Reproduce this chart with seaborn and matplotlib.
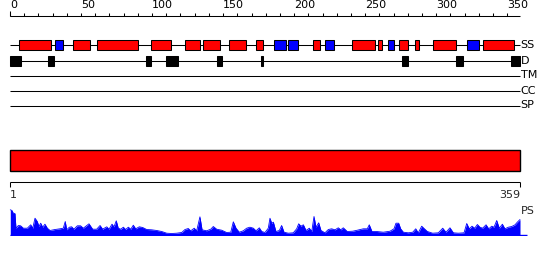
import matplotlib
matplotlib.use("Agg")
import matplotlib.pyplot as plt
import seaborn as sns
import numpy as np
import pandas as pd

sns.set_style("white")
plt.rcParams['font.family'] = ['DejaVu Sans']

# ---------------- data ----------------
seq_len = 359
top_ticks_minor = list(range(0, 351, 10))
top_tick_labels = [0, 50, 100, 150, 200, 250, 300, 350]

helix_start = [6, 44, 61, 99, 123, 136, 154, 173, 213, 241, 259, 274, 285, 298, 333]
helix_end   = [29, 56, 90, 113, 134, 148, 166, 178, 218, 257, 262, 280, 288, 314, 355]
strand_start = [32, 186, 196, 222, 266, 322]
strand_end   = [37, 194, 203, 228, 270, 330]
disorder_start = [0, 27, 96, 110, 146, 177, 276, 314, 353]
disorder_end   = [8, 31, 99, 118, 149, 178, 280, 319, 359]

track_names = ["SS", "D", "TM", "CC", "SP"]

domain_start = [0]
domain_end = [359]

ps_pos = [0.2, 1.4, 2.3, 3.5, 4.2, 5.9, 7.5, 9.4, 12.2, 14.6, 16.0, 17.6, 19.2, 20.4, 21.6,
          23.0, 24.6, 26.3, 28.2, 31.7, 35.2, 37.5, 38.9, 39.9, 41.8, 43.4, 45.0, 47.4, 49.7,
          51.6, 55.6, 58.2, 61.0, 63.4, 65.2, 68.1, 69.7, 71.8, 73.2, 74.8, 76.2, 77.9, 79.8,
          81.4, 83.3, 85.0, 86.8, 88.5, 91.0, 93.4, 96.2, 99.7, 103.3, 106.8, 110.3, 113.8,
          117.3, 120.9, 123.2, 125.5, 127.2, 129.7, 131.4, 133.7, 135.2, 138.4, 141.3, 143.1,
          145.5, 149.0, 152.5, 155.4, 157.2, 159.1, 161.4, 164.2, 166.6, 168.9, 171.3, 173.2,
          175.5, 177.2, 179.5, 181.8, 183.0, 184.2, 185.4, 187.2, 189.6, 191.2, 192.9, 195.9,
          199.4, 201.8, 203.2, 204.8, 206.5, 208.4, 210.7, 212.4, 214.0, 215.4, 217.3, 218.9,
          221.7, 224.1, 226.4, 228.8, 231.1, 232.8, 234.6, 237.4, 241.2, 244.5, 248.7, 251.5,
          252.9, 254.8, 258.1, 262.8, 267.5, 270.3, 271.7, 273.6, 275.0, 276.9, 280.4, 283.5,
          285.6, 287.4, 289.8, 291.7, 293.8, 297.5, 301.5, 304.6, 306.9, 309.7, 312.1, 315.6,
          319.6, 321.5, 323.3, 325.2, 327.1, 329.0, 330.8, 332.7, 335.1, 337.0, 339.1, 340.7,
          342.6, 344.4, 346.6, 348.4, 350.8, 353.2, 355.5, 357.1, 359.0]
ps_val = [25.7, 25.0, 22.3, 22.0, 7.3, 10.0, 9.7, 7.3, 7.3, 10.7, 7.3, 17.3, 14.0, 9.0, 12.3,
          8.3, 11.3, 7.3, 5.0, 6.0, 6.7, 7.3, 14.0, 5.7, 8.3, 8.7, 6.3, 9.7, 9.7,
          7.3, 11.7, 6.3, 6.3, 10.0, 6.3, 8.7, 6.3, 11.3, 8.7, 14.7, 7.3, 6.3, 8.3,
          6.0, 8.3, 6.3, 10.3, 6.7, 8.7, 8.0, 6.0, 5.7, 5.0, 4.0, 2.3, 2.0,
          2.3, 3.0, 6.0, 7.0, 4.7, 7.3, 4.7, 18.7, 5.7, 4.7, 6.3, 9.0,
          6.3, 5.3, 3.0, 3.3, 13.7, 7.3, 3.3, 4.7, 7.3, 8.3, 7.3, 4.7,
          7.7, 4.0, 3.0, 7.3, 17.3, 12.3, 13.3, 4.0, 5.0, 10.0, 3.3, 2.3,
          2.7, 6.7, 11.7, 9.3, 10.7, 5.0, 7.3, 4.0, 19.0, 8.3, 12.7, 5.0,
          2.7, 6.0, 6.7, 5.7, 7.7, 5.7, 7.7, 4.0, 4.3, 5.3, 6.7, 6.7,
          10.7, 4.0, 4.0, 3.3, 4.3, 6.7, 12.3, 12.3, 6.7, 3.3, 2.7, 3.3,
          6.7, 2.7, 9.3, 6.7, 4.0, 2.3, 2.7, 7.3, 3.3, 7.7, 2.7, 2.3,
          2.7, 12.0, 6.7, 9.3, 7.3, 11.0, 8.3, 7.3, 10.7, 6.7, 9.3, 8.3,
          15.0, 7.3, 11.3, 6.7, 8.3, 9.0, 10.7, 13.3, 16.0]

# ---------------- layout helpers (pixel geometry of tracks) ----------------
W, H = 550, 260
k = 510 / seq_len           # pixels per residue
X0 = -10 / k
X1 = (W - 10) / k

fig = plt.figure(figsize=(W / 100, H / 100), dpi=100)
ax = fig.add_axes([0, 0, 1, 1])
ax.set_xlim(X0, X1)
ax.set_ylim(H, 0)
ax.axis("off")

lw = 0.75
fs = 8

# top ruler
axis_y = 15.5
ax.hlines(axis_y, 0, seq_len, color="black", lw=lw)
ax.vlines(top_ticks_minor, 12.5, axis_y, color="black", lw=lw)
ax.vlines([0], 11, axis_y, color="black", lw=lw)
for t in top_tick_labels:
    ax.text(t, 0.0, str(t), ha="left", va="top", fontsize=fs, color="black")

# tracks
track_y = {"SS": 45, "D": 60.5, "TM": 75.5, "CC": 90.5, "SP": 105.5}
for name in track_names:
    y = track_y[name]
    ax.hlines(y, 0, seq_len, color="black", lw=lw, zorder=1)
    ax.text(seq_len + 0.5, y, name, ha="left", va="center", fontsize=fs, color="black")

hs = np.array(helix_start); he = np.array(helix_end)
ax.barh([track_y["SS"]] * len(hs), he - hs, left=hs, height=10,
        color="#ff0000", edgecolor="black", linewidth=lw, zorder=2)
ss = np.array(strand_start); se = np.array(strand_end)
ax.barh([track_y["SS"]] * len(ss), se - ss, left=ss, height=10,
        color="#0000ff", edgecolor="black", linewidth=lw, zorder=2)
ds = np.array(disorder_start); de = np.array(disorder_end)
ax.barh([track_y["D"]] * len(ds), np.maximum(de - ds, 0.6), left=ds, height=10,
        color="black", edgecolor="black", linewidth=lw, zorder=2)

# domain bar
dms = np.array(domain_start); dme = np.array(domain_end)
ax.barh([160.5] * len(dms), dme - dms, left=dms, height=21,
        color="#ff0000", edgecolor="black", linewidth=1.0, zorder=2)

# bottom ruler
ax.hlines(181.5, 0, seq_len, color="black", lw=lw)
ax.vlines([0, seq_len], 181.5, 187, color="black", lw=lw)
ax.text(0, 190.5, "1", ha="left", va="top", fontsize=fs)
ax.text(seq_len, 190.5, str(seq_len), ha="right", va="top", fontsize=fs)
ax.text(seq_len + 0.5, 211, "PS", ha="left", va="center", fontsize=fs)

# profile
pax = fig.add_axes([0, (H - 235.5) / H, 1, 27 / H])
pax.set_xlim(X0, X1)
pax.set_ylim(0, 27)
pax.axis("off")
df = pd.DataFrame({"pos": ps_pos, "score": ps_val})
pax.fill_between(df["pos"], 0, df["score"], color="#0000ff", lw=0)
sns.lineplot(data=df, x="pos", y="score", ax=pax, color="#0000ff", lw=0.6, sort=True)
pax.hlines(0.3, 0, seq_len + 5, color="#0000ff", lw=1)

fig.savefig("out.png", dpi=100)
